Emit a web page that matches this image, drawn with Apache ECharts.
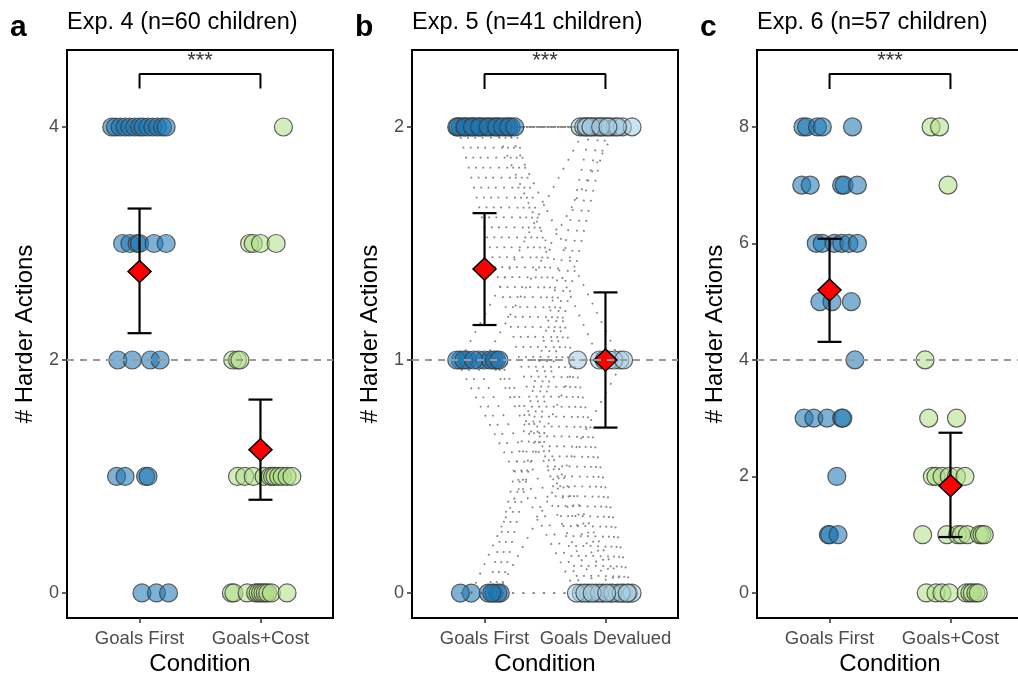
<!DOCTYPE html>
<html>
<head>
<meta charset="utf-8">
<title>Harder actions by condition</title>
<script src="https://cdn.jsdelivr.net/npm/echarts@6/dist/echarts.min.js"></script>
<style>
html, body { margin: 0; padding: 0; background: #fff; }
#chart { width: 1018px; height: 679px; }
</style>
</head>
<body>
<div id="chart"></div>
<script>
// ---- values ----
const catsA = ['Goals First', 'Goals+Cost'];
const catsB = ['Goals First', 'Goals Devalued'];
const catsC = ['Goals First', 'Goals+Cost'];

// Exp. 4 - jittered children (x = jittered condition position)
const aFirstX = [0.77,0.80,0.84,0.88,0.92,0.96,1.00,1.03,1.07,1.11,1.15,1.19,1.22, 0.86,0.92,0.98,1.00,1.12,1.22, 0.82,0.94,1.09,1.17, 0.81,0.88,1.05,1.07, 1.02,1.14,1.24];
const aFirstY = [4,4,4,4,4,4,4,4,4,4,4,4,4, 3,3,3,3,3,3, 2,2,2,2, 1,1,1,1, 0,0,0];
const aCostX = [2.19, 1.91,1.94,2.00,2.13, 1.77,1.81,1.83, 1.81,1.87,1.94,2.03,2.08,2.10,2.12,2.15,2.18,2.22,2.26, 1.76,1.78,1.89,1.96,1.98,2.00,2.02,2.04,2.06,2.09,2.22];
const aCostY = [4, 3,3,3,3, 2,2,2, 1,1,1,1,1,1,1,1,1,1,1, 0,0,0,0,0,0,0,0,0,0,0];
const aMean = [2.76, 1.23];
const aLow = [2.23, 0.80];
const aHigh = [3.30, 1.66];

// Exp. 5 - paired: child i goes from (bFirstX[i], bFirstY[i]) to (bDevX[i], bDevY[i])
const bFirstX = [0.77,0.80,0.83,0.86,0.89,0.92,0.95,0.98,1.01,1.05,1.12,1.22, 1.08,1.18, 0.78,0.84,0.90,0.96,1.03,1.10,1.15,1.20,1.25, 0.80,1.00, 0.86,0.95,1.10, 0.77,0.83,0.91,1.05,1.08,1.12, 1.03,1.08,1.13, 0.89,1.11, 0.80,1.06];
const bFirstY = [2,2,2,2,2,2,2,2,2,2,2,2, 2,2, 2,2,2,2,2,2,2,2,2, 1,1, 1,1,1, 1,1,1,1,1,1, 0,0,0, 0,0, 0,0];
const bDevX = [1.79,1.82,1.85,1.88,1.91,1.94,1.97,2.00,2.04,2.08,2.14,2.22, 1.95,2.12, 1.80,1.86,1.92,1.98,2.04,2.10,2.15,2.19,2.22, 1.84,2.10, 1.99,2.03,2.07, 1.76,1.83,1.95,2.06,2.13,2.18, 1.88,1.96,2.02, 1.77,2.15, 1.89,2.01];
const bDevY = [2,2,2,2,2,2,2,2,2,2,2,2, 1,1, 0,0,0,0,0,0,0,0,0, 2,2, 1,1,1, 0,0,0,0,0,0, 2,2,2, 1,1, 0,0];
const bMean = [1.39, 1.00];
const bLow = [1.15, 0.71];
const bHigh = [1.63, 1.29];

// Exp. 6
const cFirstX = [0.78,0.81,0.90,0.94,1.19, 0.77,0.84,1.10,1.12,1.23, 0.89,0.94,1.04,1.10,1.16,1.23, 0.92,1.02,1.18, 1.21, 0.79,0.87,0.98,1.10,1.11, 1.06, 0.99,1.00,1.07];
const cFirstY = [8,8,8,8,8, 7,7,7,7,7, 6,6,6,6,6,6, 5,5,5, 4, 3,3,3,3,3, 2, 1,1,1];
const cCostX = [1.84,1.91, 1.98, 1.79, 1.82,2.05, 1.85,1.88,1.93,1.99,2.05,2.12, 1.77,1.97,2.06,2.09,2.14,2.24,2.26,2.28, 1.80,1.88,1.93,1.99,2.13,2.16,2.18,2.21,2.23];
const cCostY = [8,8, 7, 4, 3,3, 2,2,2,2,2,2, 1,1,1,1,1,1,1,1, 0,0,0,0,0,0,0,0,0];
const cMean = [5.20, 1.84];
const cLow = [4.31, 0.96];
const cHigh = [6.08, 2.75];

const titles = ['Exp. 4 (n=60 children)', 'Exp. 5 (n=41 children)', 'Exp. 6 (n=57 children)'];
const letters = ['a', 'b', 'c'];
const yTicks = [[0, 2, 4], [0, 1, 2], [0, 2, 4, 6, 8]];
const chanceLine = [2, 1, 4];
const bracketLow = [4.33, 2.163, 8.65];
const bracketHigh = [4.455, 2.227, 8.91];
const starY = [4.567, 2.283, 9.133];

// ---- layout ----
const FONT = "'Liberation Sans', Arial, Helvetica, sans-serif";
const panelLeft = [67, 412, 757];
const yMin = [-0.215, -0.107, -0.43];
const yMax = [4.661, 2.33, 9.32];
const BLUE = 'rgba(31,120,180,0.72)';
const GREEN = 'rgba(178,223,138,0.72)';
const LIGHTBLUE = 'rgba(166,206,227,0.72)';

const zip = (xs, ys) => xs.map((x, i) => [x, ys[i]]);

const panels = [
  { cats: catsA, first: zip(aFirstX, aFirstY), second: zip(aCostX, aCostY), colors: [BLUE, GREEN], mean: aMean, low: aLow, high: aHigh },
  { cats: catsB, first: zip(bFirstX, bFirstY), second: zip(bDevX, bDevY), colors: [BLUE, LIGHTBLUE], mean: bMean, low: bLow, high: bHigh },
  { cats: catsC, first: zip(cFirstX, cFirstY), second: zip(cCostX, cCostY), colors: [BLUE, GREEN], mean: cMean, low: cLow, high: cHigh }
];

const grid = [], xAxis = [], yAxis = [], series = [], title = [];

panels.forEach((p, i) => {
  grid.push({ left: panelLeft[i], top: 50, width: 266, height: 568, outerBoundsMode: 'none',
    show: true, borderColor: '#000', borderWidth: 2 });

  xAxis.push({
    type: 'value', gridIndex: i, min: 0.4, max: 2.6,
    name: 'Condition', nameLocation: 'middle', nameGap: 34, nameMoveOverlap: false,
    nameTextStyle: { fontSize: 24, color: '#000', fontFamily: FONT },
    axisLine: { show: false, onZero: false },
    splitLine: { show: false },
    axisTick: { show: true, length: 5, customValues: [1, 2], lineStyle: { color: '#333', width: 1.5 } },
    axisLabel: { customValues: [1, 2], margin: 11, fontSize: 18.5, color: '#4d4d4d', fontFamily: FONT,
      formatter: v => p.cats[Math.round(v) - 1] }
  });

  yAxis.push({
    type: 'value', gridIndex: i, min: yMin[i], max: yMax[i],
    name: '# Harder Actions', nameLocation: 'middle', nameGap: 30, nameMoveOverlap: false,
    nameTextStyle: { fontSize: 24, color: '#000', fontFamily: FONT },
    axisLine: { show: false, onZero: false },
    splitLine: { show: false },
    axisTick: { show: true, length: 5, customValues: yTicks[i], lineStyle: { color: '#333', width: 1.5 } },
    axisLabel: { customValues: yTicks[i], margin: 8, fontSize: 18, color: '#4d4d4d', fontFamily: FONT }
  });

  // significance bracket, with the dashed chance line hung on it
  series.push({
    type: 'line', xAxisIndex: i, yAxisIndex: i, z: 1, symbol: 'none', silent: true,
    data: [[1, bracketLow[i]], [1, bracketHigh[i]], [2, bracketHigh[i]], [2, bracketLow[i]]],
    lineStyle: { color: '#000', width: 2 },
    markLine: {
      silent: true, symbol: 'none', label: { show: false },
      lineStyle: { color: '#9a9a9a', width: 2, type: [7, 6] },
      data: [{ yAxis: chanceLine[i] }]
    }
  });
  series.push({
    type: 'scatter', xAxisIndex: i, yAxisIndex: i, z: 5, symbolSize: 0, silent: true,
    data: [[1.5, starY[i]]],
    label: { show: true, position: 'inside', formatter: '***', fontSize: 22, color: '#000', fontFamily: FONT }
  });

  // paired lines for the within-subject experiment
  if (i === 1) {
    series.push({
      type: 'custom', xAxisIndex: i, yAxisIndex: i, z: 1, silent: true,
      data: bFirstX.map((x, k) => [x, bFirstY[k], bDevX[k], bDevY[k]]),
      renderItem: (params, api) => {
        const s = api.coord([api.value(0), api.value(1)]);
        const e = api.coord([api.value(2), api.value(3)]);
        return {
          type: 'line',
          shape: { x1: s[0], y1: s[1], x2: e[0], y2: e[1] },
          style: { stroke: '#858585', lineWidth: 1.8, lineDash: [1.8, 8.5] }
        };
      }
    });
  }

  [p.first, p.second].forEach((d, k) => {
    series.push({
      type: 'scatter', xAxisIndex: i, yAxisIndex: i, z: 2,
      symbol: 'circle', symbolSize: 18, data: d,
      itemStyle: { color: p.colors[k], borderColor: '#3a3a3a', borderWidth: 1.2 }
    });
  });

  // 95% CI bars
  series.push({
    type: 'custom', xAxisIndex: i, yAxisIndex: i, z: 3, silent: true,
    data: p.mean.map((m, k) => [k + 1, m, p.low[k], p.high[k]]),
    renderItem: (params, api) => {
      const top = api.coord([api.value(0), api.value(3)]);
      const bot = api.coord([api.value(0), api.value(2)]);
      const w = 12;
      const st = { stroke: '#000', lineWidth: 2.2 };
      return {
        type: 'group',
        children: [
          { type: 'line', shape: { x1: top[0], y1: top[1], x2: bot[0], y2: bot[1] }, style: st },
          { type: 'line', shape: { x1: top[0] - w, y1: top[1], x2: top[0] + w, y2: top[1] }, style: st },
          { type: 'line', shape: { x1: bot[0] - w, y1: bot[1], x2: bot[0] + w, y2: bot[1] }, style: st }
        ]
      };
    }
  });

  // means
  series.push({
    type: 'scatter', xAxisIndex: i, yAxisIndex: i, z: 4, silent: true,
    symbol: 'diamond', symbolSize: [23, 22],
    data: p.mean.map((m, k) => [k + 1, m]),
    itemStyle: { color: '#ff0000', borderColor: '#000', borderWidth: 1.5, opacity: 1 }
  });

  title.push({ text: titles[i], left: panelLeft[i], top: 11, padding: 0,
    textStyle: { fontSize: 23.5, fontWeight: 'normal', color: '#000', fontFamily: FONT } });
  title.push({ text: letters[i], left: panelLeft[i] - 57, top: 13, padding: 0,
    textStyle: { fontSize: 30, fontWeight: 'bold', color: '#000', fontFamily: FONT } });
});

const chart = echarts.init(document.getElementById('chart'), null, { renderer: 'canvas' });
chart.setOption({
  animation: false,
  backgroundColor: '#fff',
  title: title,
  grid: grid,
  xAxis: xAxis,
  yAxis: yAxis,
  series: series
});
</script>
</body>
</html>
